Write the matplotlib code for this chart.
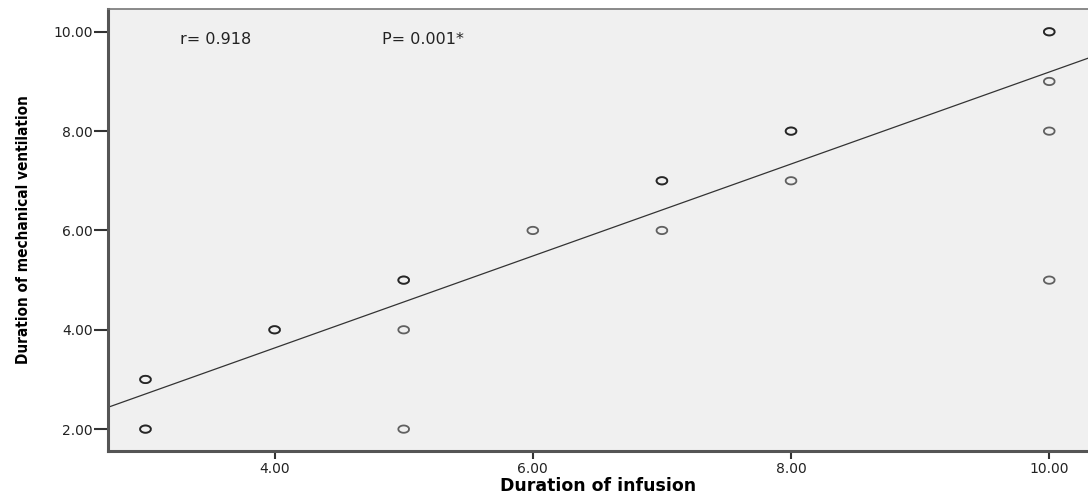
import matplotlib
matplotlib.use("Agg")
import matplotlib.pyplot as plt
import numpy as np

# data (repeated points = overlapping, darker circles)
infusion = [3, 3, 3, 3, 4, 4, 5, 5, 5, 5, 6, 7, 7, 7, 8, 8, 8, 10, 10, 10, 10, 10]
ventilation = [2, 2, 3, 3, 4, 4, 5, 5, 4, 2, 6, 7, 7, 6, 8, 8, 7, 10, 10, 9, 8, 5]
fit_slope = 0.926
fit_intercept = -0.07
x_ticks = [4, 6, 8, 10]
y_ticks = [2, 4, 6, 8, 10]

fig = plt.figure(figsize=(10.88, 4.97), dpi=100)
ax = fig.add_axes([0.0993, 0.0926, 0.9007, 0.8894])
ax.set_facecolor("#f0f0f0")

ax.set_xlim(2.71, 10.3)
ax.set_ylim(1.56, 10.46)

# regression line across the whole plot
xs = np.array(ax.get_xlim())
ax.plot(xs, fit_intercept + fit_slope * xs, color="#333333", lw=0.9)

# slightly flattened open circles
t = np.linspace(0, 2 * np.pi, 40)
ellipse = list(zip(np.cos(t), 0.68 * np.sin(t)))
ax.scatter(infusion, ventilation, s=60, marker=ellipse, facecolors="none",
           edgecolors="black", alpha=0.6, linewidths=1.3, zorder=3)

ax.set_xticks(x_ticks)
ax.set_yticks(y_ticks)
ax.set_xticklabels([f"{v:.2f}" for v in x_ticks])
ax.set_yticklabels([f"{v:.2f}" for v in y_ticks])
ax.tick_params(direction="out", width=1.5, color="#333333",
               labelsize=10, labelcolor="#222222")
ax.tick_params(axis="x", length=6, pad=2)
ax.tick_params(axis="y", length=10, pad=1)

for side in ["left", "bottom"]:
    ax.spines[side].set_linewidth(2.2)
    ax.spines[side].set_color("#555555")
ax.spines["top"].set_linewidth(1.2)
ax.spines["top"].set_color("#777777")
ax.spines["right"].set_visible(False)

ax.text(3.27, 9.84, "r= 0.918", fontsize=11.5, va="center", color="#222222")
ax.text(4.83, 9.84, "P= 0.001*", fontsize=11.5, va="center", color="#222222")

ax.set_xlabel("Duration of infusion", fontsize=12.5, fontweight="bold", labelpad=1)
ax.set_ylabel("Duration of mechanical ventilation", fontsize=11, fontweight="bold",
              fontstretch="condensed", labelpad=16)

fig.savefig("out.png", dpi=100)
